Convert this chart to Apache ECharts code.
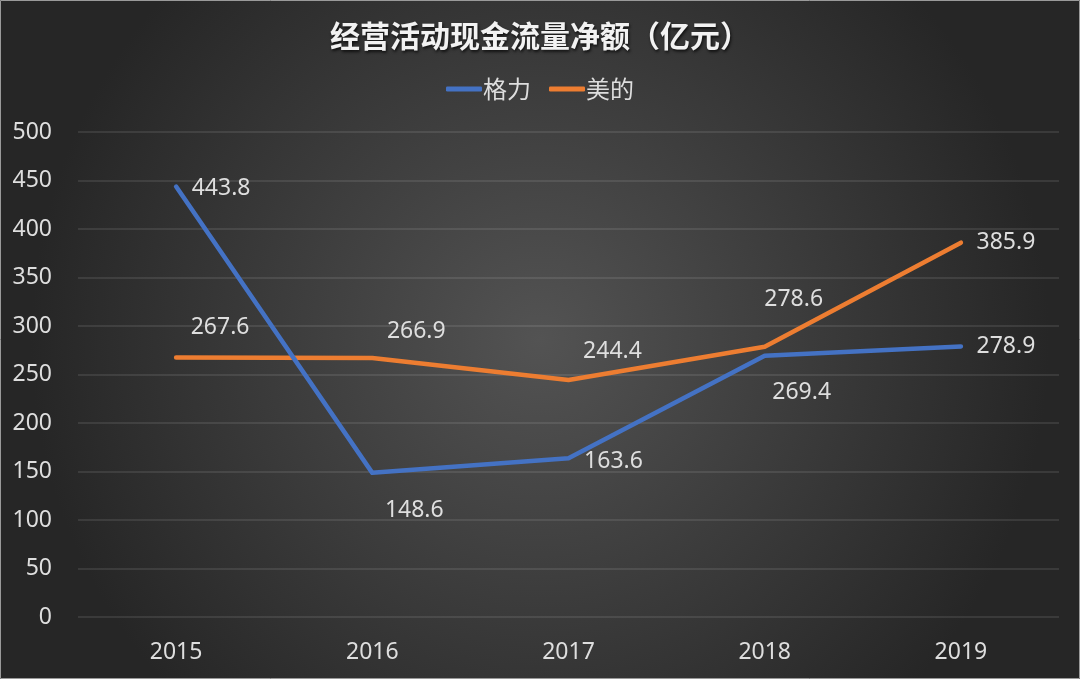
<!DOCTYPE html>
<html>
<head>
<meta charset="utf-8">
<title>经营活动现金流量净额</title>
<script src="https://cdn.jsdelivr.net/npm/echarts@6/dist/echarts.min.js"></script>
<style>
    html, body { margin: 0; padding: 0; background: #2a2a2a; }
    #chart { width: 1080px; height: 679px; }
</style>
</head>
<body>
<div id="chart"></div>
<script>
// 年份
const years = ['2015', '2016', '2017', '2018', '2019'];
// 格力 经营活动现金流量净额（亿元）
const gree = [443.8, 148.6, 163.6, 269.4, 278.9];
// 美的
const midea = [267.6, 266.9, 244.4, 278.6, 385.9];
// y轴刻度
const yTicks = [0, 50, 100, 150, 200, 250, 300, 350, 400, 450, 500];

// 数据标签偏移（相对于点的中心）
const greeLabelOffset = [[45, 2], [42, 38], [45, 3], [37, 37], [45, 0]];
const mideaLabelOffset = [[44, -30], [44, -27], [44, -28], [29, -47], [45, 0]];

const textColor = '#dedede';
const labelFont = 'Noto Sans, Open Sans, sans-serif';

function buildData(values, offsets) {
    return values.map((v, i) => {
        return {
            value: v,
            label: {
                offset: offsets[i]
            }
        };
    });
}

const chart = echarts.init(document.getElementById('chart'));

let option = {
    backgroundColor: {
        type: 'radial',
        x: 0.5,
        y: 0.5,
        r: 0.75,
        colorStops: [
            { offset: 0, color: '#535353' },
            { offset: 1, color: '#262626' }
        ]
    },
    color: ['#4472c4', '#ed7d31'],
    title: {
        text: '经营活动现金流量净额（亿元）',
        left: 'center',
        top: 16,
        textStyle: {
            color: '#f2f2f2',
            fontSize: 30,
            fontWeight: 'bold',
            fontFamily: 'Noto Sans CJK SC',
            textShadowColor: 'rgba(0,0,0,0.7)',
            textShadowBlur: 3,
            textShadowOffsetX: 1,
            textShadowOffsetY: 2
        }
    },
    legend: {
        top: 72,
        left: 'center',
        itemWidth: 36,
        itemHeight: 5,
        itemGap: 18,
        icon: 'roundRect',
        textStyle: {
            color: textColor,
            fontSize: 24,
            fontFamily: 'Noto Sans CJK SC',
            padding: [0, 0, 0, -4]
        },
        data: ['格力', '美的']
    },
    grid: {
        left: 78,
        right: 21,
        top: 132,
        bottom: 62,
        containLabel: false
    },
    xAxis: {
        type: 'category',
        data: years,
        boundaryGap: true,
        axisLine: { show: false },
        axisTick: { show: false },
        axisLabel: {
            color: textColor,
            fontSize: 23,
            fontFamily: labelFont,
            margin: 24
        }
    },
    yAxis: {
        type: 'value',
        min: yTicks[0],
        max: yTicks[yTicks.length - 1],
        interval: 50,
        axisLine: { show: false },
        axisTick: { show: false },
        axisLabel: {
            color: textColor,
            fontSize: 23,
            fontFamily: labelFont,
            margin: 26
        },
        splitLine: {
            lineStyle: {
                color: 'rgba(255,255,255,0.13)',
                width: 1.5
            }
        }
    },
    series: [
        {
            name: '格力',
            type: 'line',
            data: buildData(gree, greeLabelOffset),
            symbol: 'circle',
            symbolSize: 1,
            lineStyle: { width: 4.5, cap: 'round', join: 'round' },
            label: {
                show: true,
                position: 'inside',
                align: 'center',
                verticalAlign: 'middle',
                color: textColor,
                fontSize: 23,
                fontFamily: labelFont
            },
            z: 3
        },
        {
            name: '美的',
            type: 'line',
            data: buildData(midea, mideaLabelOffset),
            symbol: 'circle',
            symbolSize: 1,
            lineStyle: { width: 4.5, cap: 'round', join: 'round' },
            label: {
                show: true,
                position: 'inside',
                align: 'center',
                verticalAlign: 'middle',
                color: textColor,
                fontSize: 23,
                fontFamily: labelFont
            },
            z: 2
        }
    ],
    graphic: [
        {
            type: 'rect',
            shape: { x: 0.5, y: 0.5, width: 1079, height: 678 },
            style: { fill: 'none', stroke: '#9a9a9a', lineWidth: 1 },
            silent: true
        }
    ],
    animation: false
};

chart.setOption(option);
</script>
</body>
</html>
